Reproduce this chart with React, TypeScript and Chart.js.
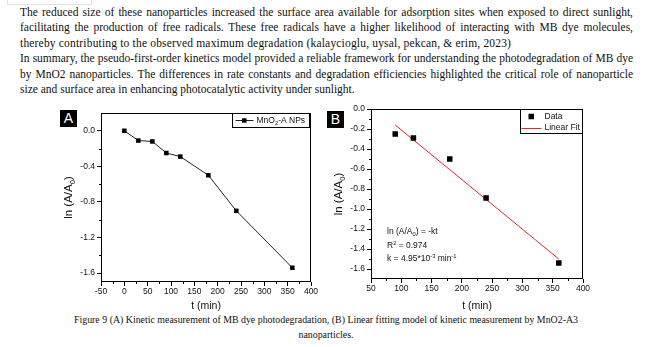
import React, { useEffect, useRef } from 'react';
import { Chart, registerables } from 'chart.js';

Chart.register(...registerables);

const SANS = '"Liberation Sans", Arial, sans-serif';
const SERIF = '"Liberation Serif", "Times New Roman", serif';

// ---------- Panel A data ----------
const timeA = [0, 30, 60, 90, 120, 180, 240, 360];
const lnA = [0.0, -0.11, -0.12, -0.25, -0.29, -0.5, -0.9, -1.54];
const legendA = 'MnO₂-A NPs';
const xTicksA = [-50, 0, 50, 100, 150, 200, 250, 300, 350, 400];
const yTicksA = [-1.6, -1.2, -0.8, -0.4, 0.0];

// ---------- Panel B data ----------
const timeB = [90, 120, 180, 240, 360];
const lnB = [-0.25, -0.29, -0.5, -0.89, -1.54];
const fitTimeB = [90, 360];
const fitLnB = [-0.16, -1.5];
const xTicksB = [50, 100, 150, 200, 250, 300, 350, 400];
const yTicksB = [-1.6, -1.4, -1.2, -1.0, -0.8, -0.6, -0.4, -0.2, 0.0];

// ---------- Text ----------
const bodyLines = [
  { t: 'The reduced size of these nanoparticles increased the surface area available for adsorption sites when exposed to direct sunlight,', j: true },
  { t: 'facilitating the production of free radicals. These free radicals have a higher likelihood of interacting with MB dye molecules,', j: true },
  { t: 'thereby contributing to the observed maximum degradation (kalaycioglu, uysal, pekcan, & erim, 2023)', j: false, ls: 0.18 },
  { t: 'In summary, the pseudo-first-order kinetics model provided a reliable framework for understanding the photodegradation of MB dye', j: true },
  { t: 'by MnO2 nanoparticles. The differences in rate constants and degradation efficiencies highlighted the critical role of nanoparticle', j: true },
  { t: 'size and surface area in enhancing photocatalytic activity under sunlight.', j: false },
];
const captionLines = [
  'Figure 9 (A) Kinetic measurement of MB dye photodegradation, (B) Linear fitting model of kinetic measurement by MnO2-A3',
  'nanoparticles.',
];

type Seg = { t: string; s?: 'sub' | 'sup' };
const yTitleSegs: Seg[] = [{ t: 'ln (A/A' }, { t: '0', s: 'sub' }, { t: ')' }];
const annotB: Seg[][] = [
  [{ t: 'ln (A/A' }, { t: '0', s: 'sub' }, { t: ') = -kt' }],
  [{ t: 'R' }, { t: '2', s: 'sup' }, { t: ' = 0.974' }],
  [{ t: 'k = 4.95*10' }, { t: '-3', s: 'sup' }, { t: ' min' }, { t: '-1', s: 'sup' }],
];

function segWidth(ctx: CanvasRenderingContext2D, segs: Seg[], size: number) {
  let w = 0;
  for (const g of segs) {
    ctx.font = `${g.s ? size * 0.68 : size}px ${SANS}`;
    w += ctx.measureText(g.t).width;
  }
  return w;
}

function drawRich(ctx: CanvasRenderingContext2D, segs: Seg[], x: number, y: number, size: number) {
  let cx = x;
  ctx.textBaseline = 'middle';
  ctx.textAlign = 'left';
  for (const g of segs) {
    const fs = g.s ? size * 0.68 : size;
    ctx.font = `${fs}px ${SANS}`;
    const dy = g.s === 'sub' ? size * 0.3 : g.s === 'sup' ? -size * 0.32 : 0;
    ctx.fillText(g.t, cx, y + dy);
    cx += ctx.measureText(g.t).width;
  }
}

function minorOf(majors: number[]) {
  return majors.slice(1).map((v, i) => (v + majors[i]) / 2);
}

function axis(min: number, max: number, ticks: number[], size: number, horizontal: boolean, title?: string) {
  return {
    type: 'linear' as const,
    min,
    max,
    afterBuildTicks: (s: any) => {
      s.ticks = ticks.map((v) => ({ value: v }));
    },
    afterFit: (s: any) => {
      if (horizontal) s.height = size;
      else s.width = size;
    },
    grid: { display: true, drawOnChartArea: false, drawTicks: true, tickLength: 4, color: '#000', lineWidth: 1 },
    border: { display: false },
    ticks: {
      font: { family: SANS, size: 8.5 },
      color: '#111',
      padding: horizontal ? 1 : 2,
      maxRotation: 0,
      autoSkip: false,
      callback: (v: any) => (horizontal ? String(v) : Number(v).toFixed(1)),
    },
    title: title
      ? { display: true, text: title, color: '#111', font: { family: SANS, size: 10.5 }, padding: { top: 0, bottom: 0 } }
      : { display: false },
  };
}

function framePlugin(xMinor: number[], yMinor: number[], extra: (ctx: CanvasRenderingContext2D, a: any, chart: any) => void) {
  return {
    id: 'frame' + Math.random().toString(36).slice(2),
    afterDraw(chart: any) {
      const { ctx, chartArea: a } = chart;
      ctx.save();
      ctx.strokeStyle = '#000';
      ctx.lineWidth = 1;
      const l = Math.round(a.left) + 0.5;
      const t = Math.round(a.top) + 0.5;
      const r = Math.round(a.right) - 0.5;
      const b = Math.round(a.bottom) - 0.5;
      ctx.strokeRect(l, t, r - l, b - t);
      ctx.beginPath();
      for (const v of xMinor) {
        const px = Math.round(chart.scales.x.getPixelForValue(v)) + 0.5;
        ctx.moveTo(px, b);
        ctx.lineTo(px, b + 2.5);
      }
      for (const v of yMinor) {
        const py = Math.round(chart.scales.y.getPixelForValue(v)) + 0.5;
        ctx.moveTo(l, py);
        ctx.lineTo(l - 2.5, py);
      }
      ctx.stroke();
      // y title
      ctx.fillStyle = '#111';
      const ts = 11.5;
      const w = segWidth(ctx, yTitleSegs, ts);
      ctx.save();
      ctx.translate(a.left - 32, (a.top + a.bottom) / 2);
      ctx.rotate(-Math.PI / 2);
      drawRich(ctx, yTitleSegs, -w / 2, 0, ts);
      ctx.restore();
      extra(ctx, a, chart);
      ctx.restore();
    },
  };
}

function ChartA() {
  const ref = useRef<HTMLCanvasElement>(null);
  useEffect(() => {
    const canvas = ref.current!;
    const chart = new Chart(canvas, {
      type: 'line',
      data: {
        datasets: [
          {
            label: legendA,
            data: timeA.map((x, i) => ({ x, y: lnA[i] })),
            borderColor: '#222',
            borderWidth: 1,
            backgroundColor: '#000',
            pointStyle: 'rect',
            pointRadius: 3.2,
            pointBorderWidth: 0,
            pointBackgroundColor: '#000',
            tension: 0,
          },
        ],
      },
      options: {
        responsive: false,
        animation: false,
        events: [],
        layout: { padding: { left: 0, top: 8, right: 9, bottom: 0 } },
        plugins: { legend: { display: false }, tooltip: { enabled: false } },
        scales: {
          x: axis(-50, 400, xTicksA, 30, true, 't (min)') as any,
          y: axis(-1.7, 0.2, yTicksA, 61, false) as any,
        },
      },
      plugins: [
        framePlugin(minorOf(xTicksA), minorOf(yTicksA), (ctx, a) => {
          const fs = 8.5;
          ctx.font = `${fs}px ${SANS}`;
          const tw = segWidth(ctx, [{ t: 'MnO' }, { t: '2', s: 'sub' }, { t: '-A NPs' }], fs);
          const bw = 24 + tw + 4;
          const bh = 14;
          const bl = Math.round(a.right - 2 - bw) + 0.5;
          const bt = Math.round(a.top) + 0.5;
          ctx.strokeStyle = '#000';
          ctx.lineWidth = 1;
          ctx.strokeRect(bl, bt, Math.round(bw), bh);
          const cy = bt + bh / 2;
          ctx.strokeStyle = '#222';
          ctx.beginPath();
          ctx.moveTo(bl + 3, cy);
          ctx.lineTo(bl + 21, cy);
          ctx.stroke();
          ctx.fillStyle = '#000';
          ctx.fillRect(bl + 9.5, cy - 2.25, 4.5, 4.5);
          ctx.fillStyle = '#111';
          drawRich(ctx, [{ t: 'MnO' }, { t: '2', s: 'sub' }, { t: '-A NPs' }], bl + 24, cy, fs);
        }),
      ],
    });
    return () => chart.destroy();
  }, []);
  return (
    <canvas
      ref={ref}
      width={280}
      height={207}
      style={{ position: 'absolute', left: 40, top: 105, width: 280, height: 207 }}
    />
  );
}

function ChartB() {
  const ref = useRef<HTMLCanvasElement>(null);
  useEffect(() => {
    const canvas = ref.current!;
    const chart = new Chart(canvas, {
      type: 'scatter',
      data: {
        datasets: [
          {
            label: 'Data',
            data: timeB.map((x, i) => ({ x, y: lnB[i] })),
            showLine: false,
            pointStyle: 'rect',
            pointRadius: 3.9,
            pointBorderWidth: 0,
            pointBackgroundColor: '#000',
            backgroundColor: '#000',
            borderColor: '#000',
          },
          {
            label: 'Linear Fit',
            data: fitTimeB.map((x, i) => ({ x, y: fitLnB[i] })),
            showLine: true,
            borderColor: '#ee2222',
            borderWidth: 1,
            pointRadius: 0,
            tension: 0,
          },
        ],
      },
      options: {
        responsive: false,
        animation: false,
        events: [],
        layout: { padding: { left: 0, top: 9, right: 17, bottom: 0 } },
        plugins: { legend: { display: false }, tooltip: { enabled: false } },
        scales: {
          x: axis(50, 400, xTicksB, 33, true, 't (min)') as any,
          y: axis(-1.7, 0.0, yTicksB, 61, false) as any,
        },
      },
      plugins: [
        framePlugin(minorOf(xTicksB), minorOf(yTicksB), (ctx, a) => {
          const fs = 8.5;
          // legend
          ctx.font = `${fs}px ${SANS}`;
          const tw = ctx.measureText('Linear Fit').width;
          const bw = Math.round(24 + tw + 3);
          const bh = 24;
          const bl = Math.round(a.right - bw) - 0.5;
          const bt = Math.round(a.top) + 0.5;
          ctx.strokeStyle = '#000';
          ctx.lineWidth = 1;
          ctx.strokeRect(bl, bt, bw, bh);
          const y1 = bt + 7;
          const y2 = bt + 18;
          ctx.fillStyle = '#000';
          ctx.fillRect(bl + 8, y1 - 2.75, 5.5, 5.5);
          ctx.strokeStyle = '#ee2222';
          ctx.beginPath();
          ctx.moveTo(bl + 1, Math.round(y2) + 0.5);
          ctx.lineTo(bl + 21, Math.round(y2) + 0.5);
          ctx.stroke();
          ctx.fillStyle = '#111';
          ctx.textBaseline = 'middle';
          ctx.textAlign = 'left';
          ctx.fillText('Data', bl + 24, y1);
          ctx.fillText('Linear Fit', bl + 24, y2);
          // annotation
          const ax = a.left + 16;
          const lines = [a.bottom - 47, a.bottom - 33, a.bottom - 20];
          annotB.forEach((segs, i) => drawRich(ctx, segs, ax, lines[i], fs));
        }),
      ],
    });
    return () => chart.destroy();
  }, []);
  return (
    <canvas
      ref={ref}
      width={290}
      height={212}
      style={{ position: 'absolute', left: 310, top: 100, width: 290, height: 212 }}
    />
  );
}

function PanelTag({ label, left, top }: { label: string; left: number; top: number }) {
  return (
    <div
      style={{
        position: 'absolute',
        left,
        top,
        width: 17,
        height: 17,
        background: '#000',
        color: '#fff',
        fontFamily: SANS,
        fontSize: 14,
        lineHeight: '17px',
        textAlign: 'center',
      }}
    >
      {label}
    </div>
  );
}

export default function App() {
  const fs = 11.5;
  const lh = 15.4;
  return (
    <div
      style={{
        position: 'absolute',
        left: 0,
        top: 0,
        width: 652,
        height: 347,
        background: '#fff',
        overflow: 'hidden',
        color: '#111',
      }}
    >
      <div
        style={{ position: 'absolute', left: 7, top: -1, width: 83, height: 4, border: '1px solid #e2e2e2' }}
      />
      {bodyLines.map((ln, i) => (
        <div
          key={i}
          style={{
            position: 'absolute',
            left: 20,
            top: 5 + i * lh,
            width: 613,
            fontFamily: SERIF,
            fontSize: fs,
            lineHeight: `${lh}px`,
            textAlign: ln.j ? 'justify' : 'left',
            textAlignLast: ln.j ? 'justify' : 'left',
            whiteSpace: 'nowrap',
            letterSpacing: ln.ls,
          } as any}
        >
          {ln.t}
        </div>
      ))}
      <ChartA />
      <ChartB />
      <PanelTag label="A" left={60} top={110} />
      <PanelTag label="B" left={327} top={111} />
      {captionLines.map((t, i) => (
        <div
          key={'c' + i}
          style={{
            position: 'absolute',
            left: 0,
            width: 652,
            top: 312 + i * lh,
            fontFamily: SERIF,
            fontSize: 9.9,
            lineHeight: `${lh}px`,
            textAlign: 'center',
            whiteSpace: 'nowrap',
          }}
        >
          {t}
        </div>
      ))}
    </div>
  );
}
